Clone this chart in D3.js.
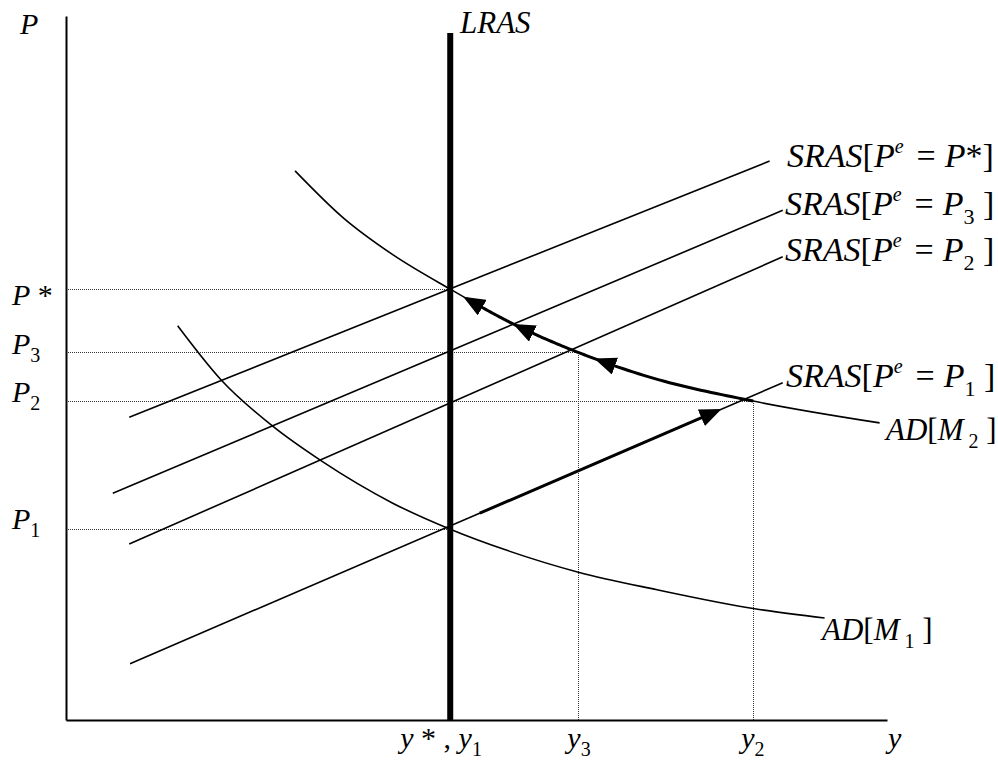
<!DOCTYPE html>
<html><head><meta charset="utf-8">
<script src="https://cdn.jsdelivr.net/npm/d3@7"></script>
<style>
html,body{margin:0;padding:0;background:#fff;}
svg{display:block;}
text{font-family:"Liberation Serif","Times New Roman",serif;fill:#000;}
</style></head>
<body><svg id="chart" width="998" height="760"></svg>
<script>
// ---------------- data (abstract units, 0..100 on both axes) ----------------
const outputNames = ["y*", "y3", "y2"];
const outputValues = [46.8, 62.4, 83.7];
const priceNames = ["P*", "P3", "P2", "P1"];
const priceValues = [61.2, 52.3, 45.3, 27.1];
const lrasTop = 97.6;

const srasNames = ["P*", "P3", "P2", "P1"];
const srasStart = [[7.7, 43.0], [5.7, 32.2], [7.7, 25.0], [7.8, 8.0]];
const srasEnd = [[85.7, 79.4], [87.3, 72.4], [87.3, 65.8], [87.3, 47.9]];

const adM2 = [[27.9, 78.0], [33.7, 71.4], [39.8, 66.1], [46.8, 61.2], [54.4, 56.3],
              [62.2, 52.3], [71.1, 48.7], [83.7, 45.3], [99.1, 42.2]];
const adM1 = [[13.6, 56.0], [18.9, 48.3], [25.1, 41.8], [31.1, 36.8], [39.8, 30.8],
              [46.8, 27.1], [53.7, 24.1], [62.4, 21.0], [72.0, 18.5], [83.9, 15.8], [92.4, 14.5]];

// arrows along AD[M2]: start x and tip x for each
const adArrowFrom = [83.7, 64.8, 54.9];
const adArrowTo = [64.8, 54.9, 48.8];
// arrow along SRAS[Pe=P1]
const srasArrowX = [50.4, 79.4];

// dotted guides: horizontal (price index -> output index), vertical (output index -> price index)
const hGuides = [[0, 0], [1, 1], [2, 2], [3, 0]];
const vGuides = [[1, 1], [2, 2]];

// ---------------- drawing ----------------
const svg = d3.select("#chart");
const x = d3.scaleLinear().domain([0, 100]).range([66, 887]);
const y = d3.scaleLinear().domain([0, 100]).range([720, 16]);

const defs = svg.append("defs");
defs.append("marker").attr("id", "ah")
  .attr("viewBox", "0 0 22 18").attr("refX", 18).attr("refY", 9)
  .attr("markerWidth", 22).attr("markerHeight", 18)
  .attr("markerUnits", "userSpaceOnUse").attr("orient", "auto")
  .append("path").attr("d", "M0,0L22,9L0,18Z").attr("fill", "#000");

// dotted guides
const guides = svg.append("g").attr("stroke", "#333").attr("stroke-width", 1)
  .attr("stroke-dasharray", "1,1").attr("fill", "none");
hGuides.forEach(([pi, oi]) => {
  guides.append("line").attr("x1", x(0) + 2).attr("x2", x(outputValues[oi]))
    .attr("y1", Math.round(y(priceValues[pi])) + 0.5).attr("y2", Math.round(y(priceValues[pi])) + 0.5);
});
vGuides.forEach(([oi, pi]) => {
  guides.append("line").attr("x1", Math.round(x(outputValues[oi])) + 0.5).attr("x2", Math.round(x(outputValues[oi])) + 0.5)
    .attr("y1", y(0)).attr("y2", y(priceValues[pi]));
});

// axes
const gx = svg.append("g").attr("transform", `translate(0,${y(0)})`)
  .call(d3.axisBottom(x).tickValues([]).tickSizeOuter(0));
const gy = svg.append("g").attr("transform", `translate(${x(0)},0)`)
  .call(d3.axisLeft(y).tickValues([]).tickSizeOuter(0));
[gx, gy].forEach(g => g.select(".domain").attr("stroke", "#000").attr("stroke-width", 2));

// SRAS lines
const line = d3.line().x(d => x(d[0])).y(d => y(d[1]));
srasStart.forEach((s, i) => {
  svg.append("path").attr("d", line([s, srasEnd[i]]))
    .attr("fill", "none").attr("stroke", "#000").attr("stroke-width", 1.6);
});

// AD curves
const curveLine = d3.line().x(d => x(d[0])).y(d => y(d[1])).curve(d3.curveMonotoneX);
const adM2Path = svg.append("path").attr("d", curveLine(adM2))
  .attr("fill", "none").attr("stroke", "#000").attr("stroke-width", 1.6);
svg.append("path").attr("d", curveLine(adM1))
  .attr("fill", "none").attr("stroke", "#000").attr("stroke-width", 1.6);

// LRAS
svg.append("line").attr("x1", x(outputValues[0])).attr("x2", x(outputValues[0]))
  .attr("y1", y(0)).attr("y2", y(lrasTop)).attr("stroke", "#000").attr("stroke-width", 6);

// arrows along AD[M2]
const node = adM2Path.node();
const total = node.getTotalLength();
function lenAtX(px) {
  let lo = 0, hi = total;
  for (let k = 0; k < 40; k++) {
    const mid = (lo + hi) / 2;
    if (node.getPointAtLength(mid).x < px) lo = mid; else hi = mid;
  }
  return (lo + hi) / 2;
}
adArrowFrom.forEach((fx, i) => {
  const l0 = lenAtX(x(fx)), l1 = lenAtX(x(adArrowTo[i]));
  const pts = d3.range(0, 31).map(k => {
    const p = node.getPointAtLength(l0 + (l1 - l0) * k / 30);
    return [p.x, p.y];
  });
  svg.append("path").attr("d", d3.line()(pts)).attr("fill", "none")
    .attr("stroke", "#000").attr("stroke-width", 3).attr("marker-end", "url(#ah)");
});

// arrow along SRAS[Pe=P1]
const s1 = srasStart[3], e1 = srasEnd[3];
const onS1 = xv => [xv, s1[1] + (e1[1] - s1[1]) * (xv - s1[0]) / (e1[0] - s1[0])];
svg.append("path").attr("d", line(srasArrowX.map(onS1))).attr("fill", "none")
  .attr("stroke", "#000").attr("stroke-width", 3).attr("marker-end", "url(#ah)");

// ---------------- labels ----------------
function label(px, py, parts, F) {
  F = F || 30;
  const t = svg.append("text").attr("x", px).attr("y", py).attr("font-size", F)
    .attr("xml:space", "preserve");
  let shift = 0;
  parts.forEach(p => {
    const sp = t.append("tspan").text(p.t);
    let target = 0, size = F;
    if (p.sup) { target = -Math.round(F * 0.4); size = Math.round(F * 0.6); }
    if (p.sub) { target = Math.round(F * 0.27); size = Math.round(F * 0.66); }
    sp.attr("dy", target - shift).attr("font-size", size)
      .attr("font-style", p.i ? "italic" : "normal");
    if (p.dx) sp.attr("dx", p.dx);
    shift = target;
  });
  return t;
}
const I = (s, dx) => ({t: s, i: true, dx});
const R = (s, dx) => ({t: s, dx});
const SUB = s => ({t: s, sub: true});
const SUP = s => ({t: s, sup: true, i: true});

label(20, 34, [I("P")]);
label(460, 33, [I("LRAS")], 31);

// price labels
const priceOffsets = [16, 2, 1, 0];
label(12, y(priceValues[0]) + priceOffsets[0], [I("P"), R(" *")]);
label(12, y(priceValues[1]) + priceOffsets[1], [I("P"), SUB("3")]);
label(12, y(priceValues[2]) + priceOffsets[2], [I("P"), SUB("2")]);
label(12, y(priceValues[3]) + priceOffsets[3], [I("P"), SUB("1")]);

// output labels
label(x(outputValues[0]) - 50, 748, [I("y"), R(" *"), R(" , "), I("y"), SUB("1")]);
label(x(outputValues[1]) - 11, 748, [I("y"), SUB("3")]);
label(x(outputValues[2]) - 12, 748, [I("y"), SUB("2")]);
label(888, 748, [I("y")]);

// SRAS labels
const SF = 34;
const srasLabelY = [167, 215, 261, 387];
const srasHead = () => [I("SRAS"), R("["), I("P"), SUP("e"), R("=", 13), I("P", 9)];
label(787, srasLabelY[0], [...srasHead(), R("*]")], SF);
label(785, srasLabelY[1], [...srasHead(), SUB("3"), R(" ]")], SF);
label(785, srasLabelY[2], [...srasHead(), SUB("2"), R(" ]")], SF);
label(786, srasLabelY[3], [...srasHead(), SUB("1"), R(" ]")], SF);

// AD labels
label(886, 440, [I("AD"), R("["), I("M"), SUB(" 2"), R(" ]")], 31);
label(822, 640, [I("AD"), R("["), I("M"), SUB(" 1"), R(" ]")], 31);
</script>
</body></html>
